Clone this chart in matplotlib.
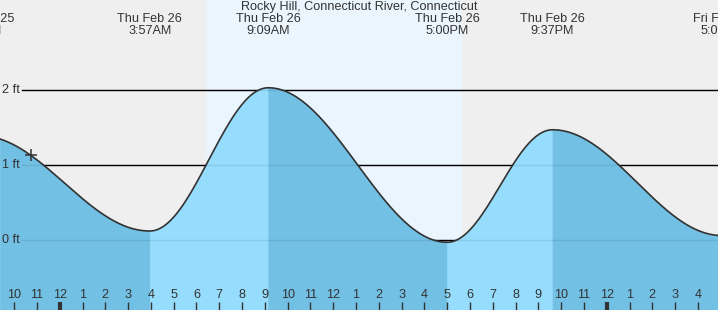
import numpy as np
import matplotlib.pyplot as plt

plt.rcParams['font.family'] = ['Liberation Sans', 'DejaVu Sans']

# tide extremes, hours from Thu Feb 26 midnight
ext_hours = [-3.5, 3.95, 9.15, 17.0, 21.62, 29.05]
ext_heights = [1.39, 0.12, 2.03, -0.03, 1.47, 0.06]
ext_days = ['Wed Feb 25', 'Thu Feb 26', 'Thu Feb 26', 'Thu Feb 26', 'Thu Feb 26', 'Fri Feb 27']
ext_times = ['8:30PM', '3:57AM', '9:09AM', '5:00PM', '9:37PM', '5:03AM']

sunrise, sunset = 6.46, 17.6
now_hour = -1.26
y_ticks = [0, 1, 2]
hour_ticks = list(range(-2, 29))

x0, x1 = -2.62, 28.88
y0, y1 = -0.933, 3.2

bg = '#efefef'
day_bg = '#eaf5fe'
falling = '#72c0e4'
rising = '#96dcfc'
ink = '#333333'
fs = 9.1


def tide(t):
    h = np.zeros_like(t)
    for i in range(len(ext_hours) - 1):
        ta, tb = ext_hours[i], ext_hours[i + 1]
        ha, hb = ext_heights[i], ext_heights[i + 1]
        m = (t >= ta) & (t <= tb)
        f = (t[m] - ta) / (tb - ta)
        h[m] = hb + (ha - hb) * (1 + np.cos(np.pi * f)) / 2
    return h


fig = plt.figure(figsize=(7.18, 3.10), dpi=100)
fig.patch.set_facecolor(bg)
ax = fig.add_axes([0, 0, 1, 1])
ax.set_facecolor(bg)
ax.set_xlim(x0, x1)
ax.set_ylim(y0, y1)
ax.axis('off')

ax.axvspan(sunrise, sunset, color=day_bg, zorder=0)

# grid lines (black behind the fill, faint over it)
for v in y_ticks:
    ax.axhline(v, xmin=22 / 718, color='black', lw=1, zorder=1)
    ax.axhline(v, xmin=22 / 718, color='black', alpha=0.08, lw=1, zorder=3)
    ax.text(x0 + 2 / 22.79, v, f'{v} ft', ha='left', va='center',
            fontsize=fs, color=ink, zorder=5)

t = np.linspace(x0, x1, 3000)
h = tide(t)
for i in range(len(ext_hours) - 1):
    ta, tb = ext_hours[i], ext_hours[i + 1]
    m = (t >= ta) & (t <= tb)
    col = rising if ext_heights[i + 1] > ext_heights[i] else falling
    ax.fill_between(t[m], y0, h[m], facecolor=col, edgecolor=col, lw=0.6, zorder=2)
ax.plot(t, h, color=ink, lw=1.2, zorder=4)

ax.plot([now_hour], tide(np.array([now_hour])), marker='+', color=ink,
        ms=8, mew=1.1, zorder=5)

# extreme labels
for hr, d, tm in zip(ext_hours, ext_days, ext_times):
    ax.annotate(d, (hr, 1), xycoords=('data', 'axes fraction'),
                xytext=(0, -19), textcoords='offset pixels',
                ha='center', va='center', fontsize=fs, color=ink)
    ax.annotate(tm, (hr, 1), xycoords=('data', 'axes fraction'),
                xytext=(0, -31), textcoords='offset pixels',
                ha='center', va='center', fontsize=fs, color=ink)

ax.annotate('Rocky Hill, Connecticut River, Connecticut', (0.5, 1),
            xycoords='axes fraction', xytext=(0, -7), textcoords='offset pixels',
            ha='center', va='center', fontsize=fs, color=ink)

# hour ticks
for hr in hour_ticks:
    lab = str((hr % 12) or 12)
    thick = hr % 24 == 0
    ax.plot([hr, hr], [0, 8 / 310], transform=ax.get_xaxis_transform(),
            color=ink, lw=3 if thick else 1, solid_capstyle='butt', zorder=6)
    ax.annotate(lab, (hr, 0), xycoords=('data', 'axes fraction'),
                xytext=(0, 15), textcoords='offset pixels',
                ha='center', va='center', fontsize=fs, color=ink)

fig.savefig('out.png', dpi=100, facecolor=bg)
